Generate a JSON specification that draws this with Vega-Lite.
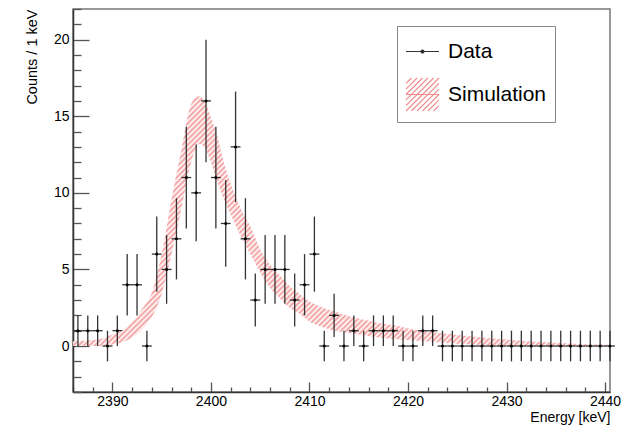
{
  "$schema": "https://vega.github.io/schema/vega-lite/v6.json",
  "width": 537,
  "height": 383,
  "autosize": {"type": "none"},
  "padding": {"left": 73, "top": 9, "right": 23, "bottom": 33},
  "background": "white",
  "config": {
    "view": {"stroke": "#777", "strokeWidth": 1.5},
    "font": "Liberation Sans",
    "axis": {
      "grid": false,
      "labelFont": "Liberation Sans",
      "titleFont": "Liberation Sans",
      "labelColor": "#000",
      "titleColor": "#000",
      "titleFontWeight": "normal",
      "domainColor": "#333",
      "domainWidth": 1.5,
      "tickColor": "#555",
      "tickWidth": 1.3,
      "labelFontSize": 14,
      "titleFontSize": 14,
      "labelOverlap": false,
      "labelFlush": false
    },
    "legend": {
      "orient": "none", "legendX": 324, "legendY": 17,
      "padding": 8, "strokeColor": "#888", "fillColor": "#fff",
      "symbolSize": 1089, "symbolStrokeWidth": 1.1,
      "labelFontSize": 21, "labelFont": "Liberation Sans", "labelColor": "#000",
      "labelOffset": 8, "rowPadding": 13, "labelLimit": 400
    }
  },
  "resolve": {"axis": {"x": "independent", "y": "independent"}},
  "datasets": {
    "pts": [
      {"e": 2386.5, "n": 1, "lo": 0, "hi": 2},
      {"e": 2387.5, "n": 1, "lo": 0, "hi": 2},
      {"e": 2388.5, "n": 1, "lo": 0, "hi": 2},
      {"e": 2389.5, "n": 0, "lo": -1, "hi": 1},
      {"e": 2390.5, "n": 1, "lo": 0, "hi": 2},
      {"e": 2391.5, "n": 4, "lo": 2, "hi": 6},
      {"e": 2392.5, "n": 4, "lo": 2, "hi": 6},
      {"e": 2393.5, "n": 0, "lo": -1, "hi": 1},
      {"e": 2394.5, "n": 6, "lo": 3.55, "hi": 8.45},
      {"e": 2395.5, "n": 5, "lo": 2.76, "hi": 7.24},
      {"e": 2396.5, "n": 7, "lo": 4.35, "hi": 9.65},
      {"e": 2397.5, "n": 11, "lo": 7.68, "hi": 14.32},
      {"e": 2398.5, "n": 10, "lo": 6.84, "hi": 13.16},
      {"e": 2399.5, "n": 16, "lo": 12, "hi": 20},
      {"e": 2400.5, "n": 11, "lo": 7.68, "hi": 14.32},
      {"e": 2401.5, "n": 8, "lo": 5.17, "hi": 10.83},
      {"e": 2402.5, "n": 13, "lo": 9.39, "hi": 16.61},
      {"e": 2403.5, "n": 7, "lo": 4.35, "hi": 9.65},
      {"e": 2404.5, "n": 3, "lo": 1.27, "hi": 4.73},
      {"e": 2405.5, "n": 5, "lo": 2.76, "hi": 7.24},
      {"e": 2406.5, "n": 5, "lo": 2.76, "hi": 7.24},
      {"e": 2407.5, "n": 5, "lo": 2.76, "hi": 7.24},
      {"e": 2408.5, "n": 3, "lo": 1.27, "hi": 4.73},
      {"e": 2409.5, "n": 4, "lo": 2, "hi": 6},
      {"e": 2410.5, "n": 6, "lo": 3.55, "hi": 8.45},
      {"e": 2411.5, "n": 0, "lo": -1, "hi": 1},
      {"e": 2412.5, "n": 2, "lo": 0.59, "hi": 3.41},
      {"e": 2413.5, "n": 0, "lo": -1, "hi": 1},
      {"e": 2414.5, "n": 1, "lo": 0, "hi": 2},
      {"e": 2415.5, "n": 0, "lo": -1, "hi": 1},
      {"e": 2416.5, "n": 1, "lo": 0, "hi": 2},
      {"e": 2417.5, "n": 1, "lo": 0, "hi": 2},
      {"e": 2418.5, "n": 1, "lo": 0, "hi": 2},
      {"e": 2419.5, "n": 0, "lo": -1, "hi": 1},
      {"e": 2420.5, "n": 0, "lo": -1, "hi": 1},
      {"e": 2421.5, "n": 1, "lo": 0, "hi": 2},
      {"e": 2422.5, "n": 1, "lo": 0, "hi": 2},
      {"e": 2423.5, "n": 0, "lo": -1, "hi": 1},
      {"e": 2424.5, "n": 0, "lo": -1, "hi": 1},
      {"e": 2425.5, "n": 0, "lo": -1, "hi": 1},
      {"e": 2426.5, "n": 0, "lo": -1, "hi": 1},
      {"e": 2427.5, "n": 0, "lo": -1, "hi": 1},
      {"e": 2428.5, "n": 0, "lo": -1, "hi": 1},
      {"e": 2429.5, "n": 0, "lo": -1, "hi": 1},
      {"e": 2430.5, "n": 0, "lo": -1, "hi": 1},
      {"e": 2431.5, "n": 0, "lo": -1, "hi": 1},
      {"e": 2432.5, "n": 0, "lo": -1, "hi": 1},
      {"e": 2433.5, "n": 0, "lo": -1, "hi": 1},
      {"e": 2434.5, "n": 0, "lo": -1, "hi": 1},
      {"e": 2435.5, "n": 0, "lo": -1, "hi": 1},
      {"e": 2436.5, "n": 0, "lo": -1, "hi": 1},
      {"e": 2437.5, "n": 0, "lo": -1, "hi": 1},
      {"e": 2438.5, "n": 0, "lo": -1, "hi": 1},
      {"e": 2439.5, "n": 0, "lo": -1, "hi": 1},
      {"e": 2440.5, "n": 0, "lo": -1, "hi": 1}
    ],
    "sim": [
      {"e": 2386, "lo": 0, "hi": 0.3},
      {"e": 2387, "lo": 0, "hi": 0.35},
      {"e": 2388, "lo": 0, "hi": 0.4},
      {"e": 2389, "lo": 0, "hi": 0.5},
      {"e": 2390, "lo": 0.1, "hi": 0.75},
      {"e": 2391, "lo": 0.25, "hi": 1.05},
      {"e": 2392, "lo": 0.55, "hi": 1.6},
      {"e": 2393, "lo": 1.1, "hi": 2.4},
      {"e": 2394, "lo": 1.9, "hi": 3.5},
      {"e": 2395, "lo": 3.4, "hi": 6.0},
      {"e": 2396, "lo": 6.0, "hi": 9.6},
      {"e": 2397, "lo": 9.0, "hi": 12.8},
      {"e": 2398, "lo": 12.0, "hi": 15.8},
      {"e": 2398.8, "lo": 13.2, "hi": 16.3},
      {"e": 2399.5, "lo": 12.8, "hi": 15.8},
      {"e": 2400, "lo": 12.0, "hi": 14.9},
      {"e": 2400.6, "lo": 10.8, "hi": 13.8},
      {"e": 2401.3, "lo": 9.6, "hi": 12.0},
      {"e": 2402, "lo": 8.6, "hi": 10.6},
      {"e": 2403, "lo": 7.2, "hi": 9.0},
      {"e": 2404, "lo": 6.0, "hi": 7.8},
      {"e": 2405, "lo": 4.8, "hi": 6.3},
      {"e": 2406, "lo": 3.8, "hi": 5.3},
      {"e": 2407, "lo": 3.1, "hi": 4.6},
      {"e": 2408, "lo": 2.5, "hi": 3.9},
      {"e": 2409, "lo": 2.1, "hi": 3.4},
      {"e": 2410, "lo": 1.6, "hi": 2.9},
      {"e": 2411, "lo": 1.3, "hi": 2.6},
      {"e": 2412, "lo": 1.1, "hi": 2.35},
      {"e": 2413, "lo": 0.95, "hi": 2.15},
      {"e": 2414, "lo": 0.85, "hi": 1.95},
      {"e": 2415, "lo": 0.75, "hi": 1.8},
      {"e": 2416, "lo": 0.65, "hi": 1.65},
      {"e": 2417, "lo": 0.55, "hi": 1.5},
      {"e": 2418, "lo": 0.5, "hi": 1.4},
      {"e": 2419, "lo": 0.45, "hi": 1.3},
      {"e": 2420, "lo": 0.4, "hi": 1.15},
      {"e": 2422, "lo": 0.3, "hi": 0.95},
      {"e": 2424, "lo": 0.2, "hi": 0.8},
      {"e": 2426, "lo": 0.12, "hi": 0.65},
      {"e": 2428, "lo": 0.05, "hi": 0.52},
      {"e": 2430, "lo": 0, "hi": 0.42},
      {"e": 2432, "lo": 0, "hi": 0.32},
      {"e": 2434, "lo": 0, "hi": 0.25},
      {"e": 2436, "lo": 0, "hi": 0.18},
      {"e": 2438, "lo": 0, "hi": 0.12},
      {"e": 2440.5, "lo": 0, "hi": 0.08}
    ]
  },
  "layer": [
    {
      "data": {"name": "sim"},
      "mark": {
        "type": "area",
        "interpolate": "monotone",
        "opacity": 1,
        "fill": {
          "gradient": "linear",
          "x1": 0.18, "y1": 0.0837, "x2": 1.21, "y2": 0.5627,
          "stops": [
            {"offset": 0, "color": "#fff"}, {"offset": 0.004, "color": "#f39a9a"}, {"offset": 0.008, "color": "#fff"}, {"offset": 0.012, "color": "#f39a9a"}, {"offset": 0.016, "color": "#fff"}, {"offset": 0.02, "color": "#f39a9a"}, {"offset": 0.024, "color": "#fff"}, {"offset": 0.028, "color": "#f39a9a"}, {"offset": 0.032, "color": "#fff"}, {"offset": 0.036, "color": "#f39a9a"}, {"offset": 0.04, "color": "#fff"}, {"offset": 0.044, "color": "#f39a9a"}, {"offset": 0.048, "color": "#fff"}, {"offset": 0.052, "color": "#f39a9a"}, {"offset": 0.056, "color": "#fff"}, {"offset": 0.06, "color": "#f39a9a"}, {"offset": 0.064, "color": "#fff"}, {"offset": 0.068, "color": "#f39a9a"}, {"offset": 0.072, "color": "#fff"}, {"offset": 0.076, "color": "#f39a9a"}, {"offset": 0.08, "color": "#fff"}, {"offset": 0.084, "color": "#f39a9a"}, {"offset": 0.088, "color": "#fff"}, {"offset": 0.092, "color": "#f39a9a"}, {"offset": 0.096, "color": "#fff"},
            {"offset": 0.1, "color": "#f39a9a"}, {"offset": 0.104, "color": "#fff"}, {"offset": 0.108, "color": "#f39a9a"}, {"offset": 0.112, "color": "#fff"}, {"offset": 0.116, "color": "#f39a9a"}, {"offset": 0.12, "color": "#fff"}, {"offset": 0.124, "color": "#f39a9a"}, {"offset": 0.128, "color": "#fff"}, {"offset": 0.132, "color": "#f39a9a"}, {"offset": 0.136, "color": "#fff"}, {"offset": 0.14, "color": "#f39a9a"}, {"offset": 0.144, "color": "#fff"}, {"offset": 0.148, "color": "#f39a9a"}, {"offset": 0.152, "color": "#fff"}, {"offset": 0.156, "color": "#f39a9a"}, {"offset": 0.16, "color": "#fff"}, {"offset": 0.164, "color": "#f39a9a"}, {"offset": 0.168, "color": "#fff"}, {"offset": 0.172, "color": "#f39a9a"}, {"offset": 0.176, "color": "#fff"}, {"offset": 0.18, "color": "#f39a9a"}, {"offset": 0.184, "color": "#fff"}, {"offset": 0.188, "color": "#f39a9a"}, {"offset": 0.192, "color": "#fff"}, {"offset": 0.196, "color": "#f39a9a"},
            {"offset": 0.2, "color": "#fff"}, {"offset": 0.204, "color": "#f39a9a"}, {"offset": 0.208, "color": "#fff"}, {"offset": 0.212, "color": "#f39a9a"}, {"offset": 0.216, "color": "#fff"}, {"offset": 0.22, "color": "#f39a9a"}, {"offset": 0.224, "color": "#fff"}, {"offset": 0.228, "color": "#f39a9a"}, {"offset": 0.232, "color": "#fff"}, {"offset": 0.236, "color": "#f39a9a"}, {"offset": 0.24, "color": "#fff"}, {"offset": 0.244, "color": "#f39a9a"}, {"offset": 0.248, "color": "#fff"}, {"offset": 0.252, "color": "#f39a9a"}, {"offset": 0.256, "color": "#fff"}, {"offset": 0.26, "color": "#f39a9a"}, {"offset": 0.264, "color": "#fff"}, {"offset": 0.268, "color": "#f39a9a"}, {"offset": 0.272, "color": "#fff"}, {"offset": 0.276, "color": "#f39a9a"}, {"offset": 0.28, "color": "#fff"}, {"offset": 0.284, "color": "#f39a9a"}, {"offset": 0.288, "color": "#fff"}, {"offset": 0.292, "color": "#f39a9a"}, {"offset": 0.296, "color": "#fff"},
            {"offset": 0.3, "color": "#f39a9a"}, {"offset": 0.304, "color": "#fff"}, {"offset": 0.308, "color": "#f39a9a"}, {"offset": 0.312, "color": "#fff"}, {"offset": 0.316, "color": "#f39a9a"}, {"offset": 0.32, "color": "#fff"}, {"offset": 0.324, "color": "#f39a9a"}, {"offset": 0.328, "color": "#fff"}, {"offset": 0.332, "color": "#f39a9a"}, {"offset": 0.336, "color": "#fff"}, {"offset": 0.34, "color": "#f39a9a"}, {"offset": 0.344, "color": "#fff"}, {"offset": 0.348, "color": "#f39a9a"}, {"offset": 0.352, "color": "#fff"}, {"offset": 0.356, "color": "#f39a9a"}, {"offset": 0.36, "color": "#fff"}, {"offset": 0.364, "color": "#f39a9a"}, {"offset": 0.368, "color": "#fff"}, {"offset": 0.372, "color": "#f39a9a"}, {"offset": 0.376, "color": "#fff"}, {"offset": 0.38, "color": "#f39a9a"}, {"offset": 0.384, "color": "#fff"}, {"offset": 0.388, "color": "#f39a9a"}, {"offset": 0.392, "color": "#fff"}, {"offset": 0.396, "color": "#f39a9a"},
            {"offset": 0.4, "color": "#fff"}, {"offset": 0.404, "color": "#f39a9a"}, {"offset": 0.408, "color": "#fff"}, {"offset": 0.412, "color": "#f39a9a"}, {"offset": 0.416, "color": "#fff"}, {"offset": 0.42, "color": "#f39a9a"}, {"offset": 0.424, "color": "#fff"}, {"offset": 0.428, "color": "#f39a9a"}, {"offset": 0.432, "color": "#fff"}, {"offset": 0.436, "color": "#f39a9a"}, {"offset": 0.44, "color": "#fff"}, {"offset": 0.444, "color": "#f39a9a"}, {"offset": 0.448, "color": "#fff"}, {"offset": 0.452, "color": "#f39a9a"}, {"offset": 0.456, "color": "#fff"}, {"offset": 0.46, "color": "#f39a9a"}, {"offset": 0.464, "color": "#fff"}, {"offset": 0.468, "color": "#f39a9a"}, {"offset": 0.472, "color": "#fff"}, {"offset": 0.476, "color": "#f39a9a"}, {"offset": 0.48, "color": "#fff"}, {"offset": 0.484, "color": "#f39a9a"}, {"offset": 0.488, "color": "#fff"}, {"offset": 0.492, "color": "#f39a9a"}, {"offset": 0.496, "color": "#fff"},
            {"offset": 0.5, "color": "#f39a9a"}, {"offset": 0.504, "color": "#fff"}, {"offset": 0.508, "color": "#f39a9a"}, {"offset": 0.512, "color": "#fff"}, {"offset": 0.516, "color": "#f39a9a"}, {"offset": 0.52, "color": "#fff"}, {"offset": 0.524, "color": "#f39a9a"}, {"offset": 0.528, "color": "#fff"}, {"offset": 0.532, "color": "#f39a9a"}, {"offset": 0.536, "color": "#fff"}, {"offset": 0.54, "color": "#f39a9a"}, {"offset": 0.544, "color": "#fff"}, {"offset": 0.548, "color": "#f39a9a"}, {"offset": 0.552, "color": "#fff"}, {"offset": 0.556, "color": "#f39a9a"}, {"offset": 0.56, "color": "#fff"}, {"offset": 0.564, "color": "#f39a9a"}, {"offset": 0.568, "color": "#fff"}, {"offset": 0.572, "color": "#f39a9a"}, {"offset": 0.576, "color": "#fff"}, {"offset": 0.58, "color": "#f39a9a"}, {"offset": 0.584, "color": "#fff"}, {"offset": 0.588, "color": "#f39a9a"}, {"offset": 0.592, "color": "#fff"}, {"offset": 0.596, "color": "#f39a9a"},
            {"offset": 0.6, "color": "#fff"}, {"offset": 0.604, "color": "#f39a9a"}, {"offset": 0.608, "color": "#fff"}, {"offset": 0.612, "color": "#f39a9a"}, {"offset": 0.616, "color": "#fff"}, {"offset": 0.62, "color": "#f39a9a"}, {"offset": 0.624, "color": "#fff"}, {"offset": 0.628, "color": "#f39a9a"}, {"offset": 0.632, "color": "#fff"}, {"offset": 0.636, "color": "#f39a9a"}, {"offset": 0.64, "color": "#fff"}, {"offset": 0.644, "color": "#f39a9a"}, {"offset": 0.648, "color": "#fff"}, {"offset": 0.652, "color": "#f39a9a"}, {"offset": 0.656, "color": "#fff"}, {"offset": 0.66, "color": "#f39a9a"}, {"offset": 0.664, "color": "#fff"}, {"offset": 0.668, "color": "#f39a9a"}, {"offset": 0.672, "color": "#fff"}, {"offset": 0.676, "color": "#f39a9a"}, {"offset": 0.68, "color": "#fff"}, {"offset": 0.684, "color": "#f39a9a"}, {"offset": 0.688, "color": "#fff"}, {"offset": 0.692, "color": "#f39a9a"}, {"offset": 0.696, "color": "#fff"},
            {"offset": 0.7, "color": "#f39a9a"}, {"offset": 0.704, "color": "#fff"}, {"offset": 0.708, "color": "#f39a9a"}, {"offset": 0.712, "color": "#fff"}, {"offset": 0.716, "color": "#f39a9a"}, {"offset": 0.72, "color": "#fff"}, {"offset": 0.724, "color": "#f39a9a"}, {"offset": 0.728, "color": "#fff"}, {"offset": 0.732, "color": "#f39a9a"}, {"offset": 0.736, "color": "#fff"}, {"offset": 0.74, "color": "#f39a9a"}, {"offset": 0.744, "color": "#fff"}, {"offset": 0.748, "color": "#f39a9a"}, {"offset": 0.752, "color": "#fff"}, {"offset": 0.756, "color": "#f39a9a"}, {"offset": 0.76, "color": "#fff"}, {"offset": 0.764, "color": "#f39a9a"}, {"offset": 0.768, "color": "#fff"}, {"offset": 0.772, "color": "#f39a9a"}, {"offset": 0.776, "color": "#fff"}, {"offset": 0.78, "color": "#f39a9a"}, {"offset": 0.784, "color": "#fff"}, {"offset": 0.788, "color": "#f39a9a"}, {"offset": 0.792, "color": "#fff"}, {"offset": 0.796, "color": "#f39a9a"},
            {"offset": 0.8, "color": "#fff"}, {"offset": 0.804, "color": "#f39a9a"}, {"offset": 0.808, "color": "#fff"}, {"offset": 0.812, "color": "#f39a9a"}, {"offset": 0.816, "color": "#fff"}, {"offset": 0.82, "color": "#f39a9a"}, {"offset": 0.824, "color": "#fff"}, {"offset": 0.828, "color": "#f39a9a"}, {"offset": 0.832, "color": "#fff"}, {"offset": 0.836, "color": "#f39a9a"}, {"offset": 0.84, "color": "#fff"}, {"offset": 0.844, "color": "#f39a9a"}, {"offset": 0.848, "color": "#fff"}, {"offset": 0.852, "color": "#f39a9a"}, {"offset": 0.856, "color": "#fff"}, {"offset": 0.86, "color": "#f39a9a"}, {"offset": 0.864, "color": "#fff"}, {"offset": 0.868, "color": "#f39a9a"}, {"offset": 0.872, "color": "#fff"}, {"offset": 0.876, "color": "#f39a9a"}, {"offset": 0.88, "color": "#fff"}, {"offset": 0.884, "color": "#f39a9a"}, {"offset": 0.888, "color": "#fff"}, {"offset": 0.892, "color": "#f39a9a"}, {"offset": 0.896, "color": "#fff"},
            {"offset": 0.9, "color": "#f39a9a"}, {"offset": 0.904, "color": "#fff"}, {"offset": 0.908, "color": "#f39a9a"}, {"offset": 0.912, "color": "#fff"}, {"offset": 0.916, "color": "#f39a9a"}, {"offset": 0.92, "color": "#fff"}, {"offset": 0.924, "color": "#f39a9a"}, {"offset": 0.928, "color": "#fff"}, {"offset": 0.932, "color": "#f39a9a"}, {"offset": 0.936, "color": "#fff"}, {"offset": 0.94, "color": "#f39a9a"}, {"offset": 0.944, "color": "#fff"}, {"offset": 0.948, "color": "#f39a9a"}, {"offset": 0.952, "color": "#fff"}, {"offset": 0.956, "color": "#f39a9a"}, {"offset": 0.96, "color": "#fff"}, {"offset": 0.964, "color": "#f39a9a"}, {"offset": 0.968, "color": "#fff"}, {"offset": 0.972, "color": "#f39a9a"}, {"offset": 0.976, "color": "#fff"}, {"offset": 0.98, "color": "#f39a9a"}, {"offset": 0.984, "color": "#fff"}, {"offset": 0.988, "color": "#f39a9a"}, {"offset": 0.992, "color": "#fff"}, {"offset": 0.996, "color": "#f39a9a"},
            {"offset": 1, "color": "#fff"}
          ]
        }
      },
      "encoding": {
        "x": {
          "field": "e", "type": "quantitative",
          "scale": {"domain": [2386, 2440.5], "nice": false, "zero": false},
          "axis": {
            "orient": "bottom",
            "values": [2390, 2400, 2410, 2420, 2430, 2440],
            "format": "d",
            "tickSize": -10,
            "labelPadding": 12,
            "title": "Energy [keV]",
            "titleAnchor": "end",
            "titlePadding": 2
          }
        },
        "y": {
          "field": "lo", "type": "quantitative",
          "scale": {"domain": [-3, 22], "nice": false, "zero": false},
          "axis": {
            "orient": "left",
            "values": [0, 5, 10, 15, 20],
            "tickSize": -16,
            "labelPadding": 20,
            "title": "Counts / 1 keV",
            "titleFontSize": 14.5,
            "titleAnchor": "end",
            "titlePadding": 14
          }
        },
        "y2": {"field": "hi"}
      }
    },
    {
      "data": {"name": "pts"},
      "mark": {"type": "rule", "color": "#333", "strokeWidth": 1.3},
      "encoding": {
        "x": {
          "field": "e", "type": "quantitative",
          "axis": {
            "orient": "bottom",
            "values": [2386, 2388, 2392, 2394, 2396, 2398, 2402, 2404, 2406, 2408, 2412, 2414, 2416, 2418, 2422, 2424, 2426, 2428, 2432, 2434, 2436, 2438],
            "tickSize": -5,
            "labels": false,
            "domain": false,
            "title": null
          }
        },
        "y": {
          "field": "lo", "type": "quantitative",
          "axis": {
            "orient": "left",
            "values": [-3, -2, -1, 1, 2, 3, 4, 6, 7, 8, 9, 11, 12, 13, 14, 16, 17, 18, 19, 21, 22],
            "tickSize": -8,
            "labels": false,
            "domain": false,
            "title": null
          }
        },
        "y2": {"field": "hi"}
      }
    },
    {
      "data": {"name": "pts"},
      "mark": {"type": "tick", "orient": "horizontal", "color": "#333", "size": 9.85, "thickness": 1.3, "opacity": 1},
      "encoding": {
        "x": {"field": "e", "type": "quantitative", "axis": null},
        "y": {"field": "n", "type": "quantitative", "axis": null}
      }
    },
    {
      "data": {"name": "pts"},
      "mark": {"type": "point", "shape": "circle", "filled": true, "size": 9, "opacity": 1, "color": "#000"},
      "encoding": {
        "x": {"field": "e", "type": "quantitative", "axis": null},
        "y": {"field": "n", "type": "quantitative", "axis": null}
      }
    },
    {
      "data": {"name": "pts"},
      "mark": {"type": "point", "filled": true, "size": 0, "opacity": 1},
      "encoding": {
        "x": {"field": "e", "type": "quantitative", "axis": null},
        "y": {"field": "n", "type": "quantitative", "axis": null},
        "fill": {
          "datum": "Data",
          "type": "nominal",
          "scale": {"domain": ["Data", "Simulation"], "range": ["#000", "#fff"]},
          "legend": {"title": null}
        },
        "stroke": {
          "datum": "Data",
          "type": "nominal",
          "scale": {"domain": ["Data", "Simulation"], "range": ["#333", "#f08a8a"]},
          "legend": {"title": null}
        },
        "shape": {
          "datum": "Data",
          "type": "nominal",
          "scale": {
            "domain": ["Data", "Simulation"],
            "range": [
              "M-1,0H1M0.09,0A0.09,0.09,0,1,1,-0.09,0A0.09,0.09,0,1,1,0.09,0Z",
              "M-1,-0.67L-0.67,-1M-1,-0.33L-0.33,-1M-1,0L0,-1M-1,0.33L0.33,-1M-1,0.67L0.67,-1M-1,1L1,-1M-0.67,1L1,-0.67M-0.33,1L1,-0.33M0,1L1,0M0.33,1L1,0.33M0.67,1L1,0.67M-1,0H1"
            ]
          },
          "legend": {"title": null}
        }
      }
    }
  ]
}
